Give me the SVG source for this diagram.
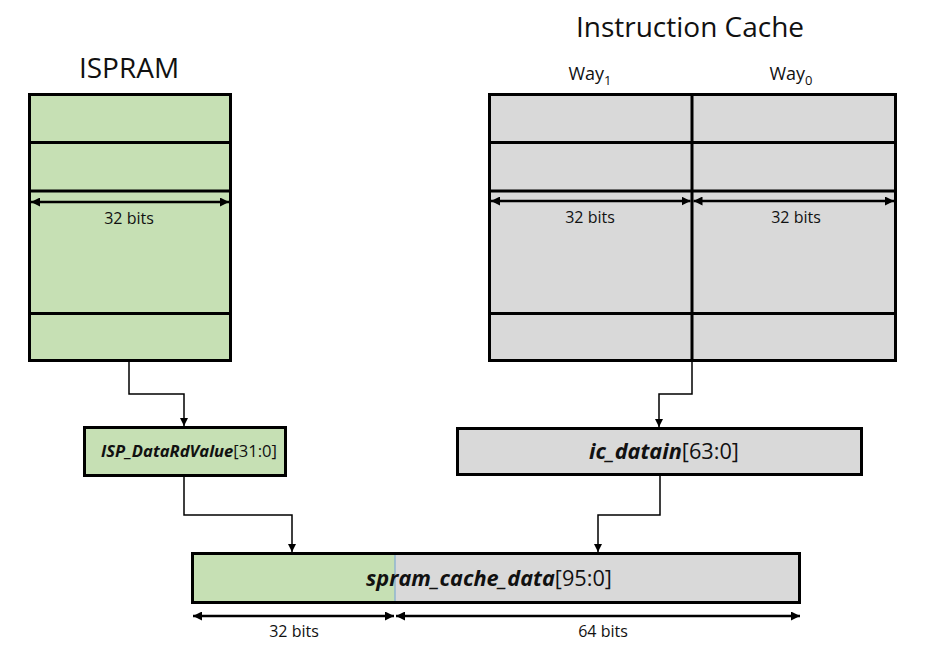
<svg xmlns="http://www.w3.org/2000/svg" width="930" height="655" viewBox="0 0 930 655">
<defs>
<style>
text{font-family:"Open Sans","Liberation Sans",sans-serif;fill:#111;}
.title{font-size:28px;text-anchor:middle;}
.lbl{font-size:16px;text-anchor:middle;}
.way{font-size:18px;text-anchor:middle;}
.mem{stroke:#000;stroke-width:3;}
.green{fill:#C6E0B4;}
.gray{fill:#D9D9D9;}
.row{stroke:#000;stroke-width:3;fill:none;}
.dim{stroke:#000;stroke-width:2.5;fill:none;marker-start:url(#ah);marker-end:url(#ah);}
.conn{stroke:#000;stroke-width:1.5;fill:none;marker-end:url(#tip);}
.bi{font-weight:bold;font-style:italic;}
</style>
<marker id="ah" viewBox="0 0 10 10" refX="10" refY="5" markerWidth="9" markerHeight="9" markerUnits="userSpaceOnUse" orient="auto-start-reverse">
<path d="M0,0 L10,5 L0,10 z" fill="#000"/>
</marker>
<marker id="tip" viewBox="0 0 10 10" refX="10" refY="5" markerWidth="9" markerHeight="8" markerUnits="userSpaceOnUse" orient="auto">
<path d="M0,0 L10,5 L0,10 z" fill="#000"/>
</marker>
</defs>
<rect width="930" height="655" fill="#fff"/>

<g id="ispram">
<text class="title" x="129" y="78">ISPRAM</text>
<rect class="mem green" x="29.5" y="94.5" width="201" height="266"/>
<line class="row" x1="29.5" y1="142.5" x2="230.5" y2="142.5"/>
<line class="row" x1="29.5" y1="191" x2="230.5" y2="191"/>
<line class="row" x1="29.5" y1="313.5" x2="230.5" y2="313.5"/>
<line class="dim" x1="31" y1="202" x2="229" y2="202"/>
<text class="lbl" x="129" y="224">32 bits</text>
</g>

<g id="icache">
<text class="title" x="690" y="37">Instruction Cache</text>
<text class="way" x="590" y="80">Way<tspan font-size="13" dy="5">1</tspan></text>
<text class="way" x="791" y="80">Way<tspan font-size="13" dy="5">0</tspan></text>
<rect class="mem gray" x="489.5" y="94.5" width="406" height="266"/>
<line class="row" x1="692" y1="94.5" x2="692" y2="360.5"/>
<line class="row" x1="489.5" y1="142.5" x2="895.5" y2="142.5"/>
<line class="row" x1="489.5" y1="191" x2="895.5" y2="191"/>
<line class="row" x1="489.5" y1="313.5" x2="895.5" y2="313.5"/>
<line class="dim" x1="491" y1="201" x2="690.5" y2="201"/>
<line class="dim" x1="693.5" y1="201" x2="894" y2="201"/>
<text class="lbl" x="590" y="223">32 bits</text>
<text class="lbl" x="796" y="223">32 bits</text>
</g>

<g id="isp-reg">
<rect class="mem green" x="84.5" y="427.5" width="201" height="48"/>
<text x="189" y="457" font-size="16.6" text-anchor="middle"><tspan class="bi">ISP_DataRdValue</tspan>[31:0]</text>
</g>

<g id="ic-reg">
<rect class="mem gray" x="457.5" y="428.5" width="404" height="46"/>
<text x="664" y="459" font-size="21.7" text-anchor="middle"><tspan class="bi">ic_datain</tspan>[63:0]</text>
</g>

<g id="spram-reg">
<rect class="green" x="192.5" y="553.5" width="202.5" height="49"/>
<rect class="gray" x="395" y="553.5" width="404.5" height="49"/>
<line x1="395" y1="555" x2="395" y2="601" stroke="#8FB4CF" stroke-width="1.5"/>
<rect x="192.5" y="553.5" width="607" height="49" fill="none" stroke="#000" stroke-width="3"/>
<text x="489" y="586" font-size="21.7" text-anchor="middle"><tspan class="bi">spram_cache_data</tspan>[95:0]</text>
<line class="dim" x1="193" y1="616" x2="394" y2="616"/>
<line class="dim" x1="396" y1="616" x2="800" y2="616"/>
<text class="lbl" x="294" y="637">32 bits</text>
<text class="lbl" x="603" y="637">64 bits</text>
</g>

<g id="connectors">
<path class="conn" d="M129,361 V394 H184 V426"/>
<path class="conn" d="M692,361 V394 H659 V427"/>
<path class="conn" d="M184,476 V515 H292 V552"/>
<path class="conn" d="M660,476 V515 H598 V552"/>
</g>
</svg>
